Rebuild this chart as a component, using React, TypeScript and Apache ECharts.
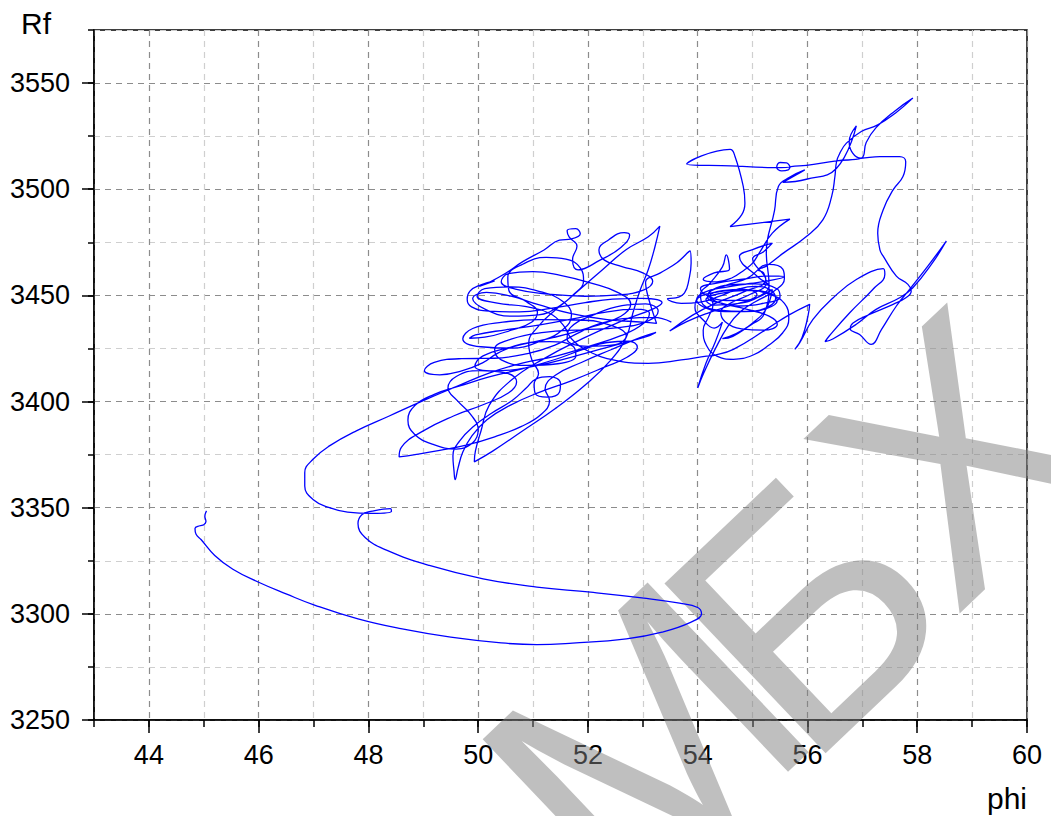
import React, { useEffect, useRef } from "react";
import * as echarts from "echarts";

// Axis tick values (major ticks carry labels)
const phiMajor = [44, 46, 48, 50, 52, 54, 56, 58, 60];
const rfMajor = [3250, 3300, 3350, 3400, 3450, 3500, 3550];

// Trajectory of (phi, Rf), split into consecutive stretches
const approachPath: [number, number][] = [
  [45.05, 3348.5], [45.02, 3346], [45.04, 3343.5], [45.0, 3342], [44.93, 3341.5], [44.84, 3340.2],
  [44.86, 3337.5], [44.95, 3335], [45.2, 3327.5], [45.53, 3321], [45.99, 3315], [46.5, 3309.4],
  [47.03, 3304], [47.81, 3297.6], [48.59, 3293], [49.5, 3289], [50.42, 3286.3], [51.07, 3285.5],
  [51.72, 3286.2], [52.7, 3288.2], [53.35, 3291.4], [53.87, 3296], [54.07, 3300], [54.0, 3303],
  [53.67, 3305], [53.02, 3307.4], [52.05, 3310.2], [51.07, 3312.6], [50.09, 3316.5], [49.11, 3322.8],
  [48.33, 3330], [47.94, 3336], [47.81, 3342.5], [47.88, 3346.7], [48.07, 3348.4], [48.4, 3349.6],
  [48.42, 3348.3], [48.07, 3347.3], [47.62, 3347.9], [47.29, 3350], [46.99, 3353.9], [46.84, 3360.2],
  [46.84, 3366.5], [46.99, 3372.8], [47.29, 3379.1], [47.78, 3386.2], [48.38, 3393.2], [48.99, 3400.3],
  [49.6, 3407], [50.21, 3413.5], [50.82, 3418.2], [51.42, 3421.4], [52.03, 3426.1],
];

const westTangle: [number, number][] = [
  [52.6, 3431], [53.0, 3436.5], [53.12, 3441.5], [52.85, 3443.5], [52.3, 3442], [51.7, 3438.8],
  [51.1, 3436], [50.5, 3433.8], [49.95, 3431.4], [49.84, 3429.8], [50.12, 3430.3], [50.6, 3433.6],
  [50.98, 3437.5], [51.08, 3442], [50.88, 3447], [50.56, 3452.3], [50.54, 3458.6], [50.82, 3464.8],
  [51.24, 3467.9], [51.6, 3467.1], [51.86, 3463], [51.92, 3456.8], [51.72, 3450], [51.4, 3443],
  [51.1, 3435.5], [50.92, 3427.5], [50.98, 3419.5], [51.1, 3413.2], [51.02, 3408.2], [51.04, 3403.8],
  [51.26, 3402.1], [51.48, 3404.4], [51.5, 3408.6], [51.3, 3411.7], [51.05, 3410.6], [50.88, 3406.5],
  [50.62, 3400.5], [50.25, 3394.6], [49.92, 3388.4], [49.66, 3381.4], [49.54, 3374.4], [49.56, 3367.2],
  [49.58, 3363.2], [49.63, 3368.4], [49.72, 3376.2], [49.88, 3383.6], [50.16, 3391.4], [50.58, 3398.2],
  [51.1, 3404.2], [51.72, 3410], [52.3, 3416.2], [52.72, 3421], [52.9, 3425.6], [52.75, 3428.4],
  [52.35, 3427.8], [51.9, 3424.4], [51.4, 3419.8], [50.8, 3415.4], [50.2, 3411.6], [49.65, 3407.2],
  [49.2, 3403.4], [48.85, 3398.2], [48.72, 3391.2], [48.84, 3384.6], [49.18, 3379.8], [49.6, 3377.6],
  [49.9, 3380.6], [50.0, 3386.6], [49.88, 3393.4], [49.62, 3400.4], [49.45, 3406.4], [49.6, 3411.8],
  [50.02, 3414.6], [50.48, 3413.6], [50.7, 3409.2], [50.55, 3404], [50.1, 3398.6], [49.55, 3393.2],
  [49.0, 3386.2], [48.6, 3378.4], [48.56, 3373.9], [48.85, 3375], [49.3, 3377], [49.8, 3379.6],
  [50.3, 3383.4], [50.78, 3388.2], [51.15, 3394], [51.3, 3400.4], [51.22, 3406], [51.42, 3412.6],
  [51.88, 3418.4], [52.42, 3424.4], [52.96, 3430.2], [53.24, 3432.6], [53.05, 3430.4], [52.5, 3426.6],
  [51.8, 3421.6], [51.05, 3416.8], [50.3, 3414.4], [49.94, 3416.6], [50.08, 3421.4], [50.62, 3425.8],
  [51.38, 3430.2], [52.1, 3435.4], [52.6, 3440.2], [52.78, 3445.8], [52.56, 3451.2], [52.06, 3455.8],
  [51.5, 3459.4], [51.0, 3461.2], [50.55, 3460.2], [50.42, 3456.4], [50.7, 3452.8], [51.28, 3450.6],
  [51.95, 3449.6], [52.55, 3450.2], [53.02, 3452.6], [53.18, 3456.6], [53.0, 3460.6], [52.62, 3463.6],
  [52.3, 3466.6], [52.2, 3471.4], [52.38, 3476.2], [52.66, 3479.6], [52.76, 3478.4], [52.6, 3472.6],
  [52.22, 3466.6], [51.82, 3462], [51.72, 3467], [51.8, 3473.2], [51.66, 3477.4], [51.62, 3480.4],
  [51.78, 3481.4], [51.86, 3479], [51.7, 3476.6], [51.48, 3476], [51.2, 3471.4], [50.82, 3466],
  [50.5, 3460.4], [50.22, 3456.4], [50.02, 3454.2], [50.3, 3456.8], [50.05, 3455], [49.85, 3452],
  [49.8, 3448.2], [49.88, 3444.6], [50.2, 3442.6], [50.75, 3442.2], [51.35, 3444], [51.95, 3446.6],
  [52.45, 3448.2], [52.98, 3448.6], [53.35, 3446.6], [53.2, 3443.8], [52.6, 3437.8], [51.9, 3429.6],
  [51.2, 3420.2], [50.6, 3410], [50.2, 3398.2], [50.05, 3386], [49.95, 3376.8], [49.93, 3371.6],
  [50.25, 3376.4], [50.8, 3386], [51.4, 3396.6], [51.95, 3407.8], [52.4, 3419], [52.7, 3430.4],
  [52.82, 3441.8], [52.95, 3452.4], [53.1, 3462.2], [53.22, 3472.8], [53.31, 3482.6], [53.1, 3477.6],
  [52.7, 3471.6], [52.27, 3462.2], [51.85, 3452.8], [51.48, 3445], [51.1, 3440.8], [50.6, 3440.2],
  [50.15, 3443.2], [49.9, 3448.4], [50.15, 3451.4], [50.6, 3449.6], [51.1, 3445.6], [51.7, 3441.4],
  [52.35, 3438.6], [53.0, 3437.4], [53.25, 3436.8], [53.16, 3443.8], [53.08, 3451], [53.05, 3456.2],
  [53.32, 3460.6], [53.62, 3465.4], [53.86, 3470.9], [53.88, 3465.2], [53.84, 3457.4], [53.76, 3451.2],
  [53.6, 3448.8], [53.45, 3448.4],
];

const eastTangle: [number, number][] = [
  [53.7, 3446.2], [54.05, 3446.8], [54.4, 3449.6], [54.72, 3452.8], [55.05, 3454.2], [55.32, 3452.6],
  [55.42, 3448.6], [55.3, 3444.8], [54.95, 3442.6], [54.5, 3442.4], [54.12, 3444.4], [53.98, 3447.8],
  [54.12, 3451.4], [54.5, 3453.8], [54.95, 3455.6], [55.35, 3457.2], [55.58, 3458.8], [55.3, 3459.2],
  [54.82, 3457.6], [54.35, 3455.8], [54.05, 3453.2], [54.18, 3449.8], [54.52, 3447.6], [54.9, 3447.8],
  [55.08, 3450.4], [54.85, 3452.8], [54.45, 3452.2], [54.22, 3449.4], [54.28, 3445.8], [54.2, 3440],
  [54.1, 3433.6], [54.16, 3426.4], [54.35, 3421.4], [54.65, 3419.9], [55.0, 3421.8], [55.3, 3426.6],
  [55.55, 3432.4], [55.66, 3439], [55.58, 3446.2], [55.3, 3450.6], [54.85, 3452.6], [54.35, 3451.6],
  [54.0, 3448.6], [53.95, 3444.2], [54.1, 3438.4], [54.3, 3434.6], [54.45, 3437.4], [54.32, 3428],
  [54.15, 3418], [54.0, 3406.4], [54.12, 3414], [54.32, 3424.8], [54.55, 3435.4], [54.78, 3442.4],
  [55.05, 3447], [55.4, 3452.2], [55.58, 3458], [55.55, 3462.4], [55.3, 3464.6], [54.9, 3458],
  [54.5, 3454.6], [54.2, 3450.6], [54.35, 3447], [54.75, 3445], [55.15, 3446], [55.5, 3449.4],
  [55.45, 3453], [55.05, 3455.4], [54.6, 3455], [54.25, 3452.4], [54.18, 3449], [54.45, 3446.2],
  [54.9, 3443.4], [55.3, 3440.2], [55.45, 3436.4], [55.2, 3433.6], [54.8, 3434.2], [54.5, 3437.6],
  [54.42, 3442], [54.6, 3446.4], [54.95, 3450.4], [55.25, 3455.8], [55.2, 3460.6], [55.1, 3462],
];

const summitLoop: [number, number][] = [
  [55.25, 3463.8], [55.56, 3469.9], [55.98, 3477.7], [56.28, 3485.6], [56.44, 3496.5], [56.5, 3506],
  [56.53, 3513], [56.59, 3517], [56.71, 3521.7], [56.98, 3527.2], [57.28, 3530.3], [57.6, 3535.8],
  [57.92, 3542.9], [57.6, 3537], [57.25, 3529], [57.07, 3522], [56.98, 3514.6], [56.53, 3513.4],
  [55.98, 3511.2], [55.7, 3510.6], [55.65, 3509.1], [55.53, 3508.6], [55.44, 3510.4], [55.5, 3512.6],
  [55.62, 3512.4], [55.68, 3510.6], [55.38, 3510.2], [54.6, 3511], [53.8, 3511.9], [54.59, 3518.8],
  [54.68, 3515.4], [54.83, 3501.3], [54.86, 3493.4], [54.8, 3487.9], [54.59, 3482.4], [55.68, 3485.9],
  [55.36, 3479.3], [55.12, 3469.9], [55.0, 3465.2],
];

const eastReturn: [number, number][] = [
  [54.85, 3462], [54.62, 3458.2], [54.35, 3456.4], [54.1, 3457.6], [54.3, 3460.6], [54.58, 3462.4],
  [54.52, 3469.1], [54.45, 3463.4], [54.22, 3455.6], [54.05, 3450.4], [54.1, 3445.6], [54.4, 3443],
  [54.85, 3442.4], [55.25, 3443.8], [55.45, 3447.6], [55.3, 3451.2], [54.9, 3452.4], [54.42, 3451],
  [54.15, 3448], [54.3, 3445.4], [54.75, 3446.2], [55.1, 3449.2], [55.3, 3454.4], [55.12, 3458.2],
  [54.76, 3468.3], [55.0, 3471.6], [55.36, 3474.6], [55.2, 3470.6], [55.0, 3467.2], [55.24, 3457.4],
  [54.85, 3451.8], [54.3, 3446], [53.9, 3440.6], [53.49, 3433.2], [53.8, 3437.6], [54.2, 3441.8],
  [54.62, 3445.4], [55.05, 3448.6], [55.36, 3452.7], [55.24, 3443.3], [55.0, 3437], [54.64, 3430.7],
  [54.45, 3429.6], [54.7, 3432], [55.0, 3436.6], [55.2, 3440.8], [55.3, 3455], [55.25, 3470],
  [55.4, 3490], [55.47, 3501.3], [55.68, 3505.7], [55.95, 3509.1], [55.8, 3506.8], [55.55, 3503.2],
  [55.98, 3504.7], [56.53, 3509.9], [56.89, 3529.8], [56.76, 3522.4], [56.98, 3514.6],
];

const ridgeRun: [number, number][] = [
  [57.32, 3515.4], [57.68, 3515.4], [57.79, 3513], [57.74, 3506], [57.56, 3499.7], [57.38, 3490.3],
  [57.28, 3479.3], [57.32, 3471.4], [57.38, 3468.5], [57.62, 3459.1], [57.83, 3455.2], [57.89, 3452],
  [57.8, 3449], [57.56, 3445.8], [57.13, 3441], [56.83, 3437], [56.78, 3434.3], [56.95, 3431.6],
  [57.16, 3426.9], [57.35, 3434], [57.62, 3445], [57.86, 3452.8], [58.2, 3464], [58.53, 3475.6],
  [58.28, 3465.4], [57.92, 3453.6], [57.68, 3448.9], [57.25, 3443.4], [56.89, 3436.4], [56.47, 3429.6],
  [56.32, 3428.2], [56.4, 3431], [56.77, 3441.8], [57.19, 3452.8], [57.41, 3459.9], [57.38, 3462.6],
  [56.89, 3457.5], [56.47, 3448.9], [56.1, 3438.7], [55.86, 3427.7], [55.77, 3424.6], [55.9, 3430],
  [56.01, 3440.3], [56.04, 3445.8], [55.65, 3440.6], [55.25, 3434], [54.65, 3424.6], [54.3, 3421.8],
  [54.16, 3421.4],
];

const lateWander: [number, number][] = [
  [53.7, 3419.6], [53.1, 3418], [52.5, 3419.4], [52.0, 3423.8], [51.7, 3429.6], [51.55, 3436],
  [51.3, 3441.6], [50.85, 3444.8], [50.35, 3446.4], [49.98, 3449.6], [50.12, 3453.2], [50.6, 3454],
  [51.15, 3451.6], [51.55, 3447], [51.7, 3440.8], [51.55, 3434], [51.15, 3428.6], [50.6, 3425.2],
  [50.05, 3425.8], [49.72, 3429.6], [49.9, 3434.4], [50.45, 3437.4], [51.1, 3438.6], [51.85, 3438.4],
  [52.45, 3435.6], [52.7, 3431], [52.5, 3426.8], [52.0, 3426], [51.62, 3429.6], [51.68, 3434.8],
  [52.1, 3440.8], [52.62, 3445.2], [53.05, 3446], [53.28, 3442.6], [53.1, 3438], [52.55, 3434.8],
  [51.9, 3433.8], [51.2, 3432.6], [50.6, 3429.4], [50.3, 3424.6], [50.42, 3419.6], [50.9, 3417],
  [51.45, 3417.8], [51.78, 3421.6], [51.72, 3426.2], [51.3, 3428.2], [50.78, 3427], [50.36, 3422.8],
  [50.08, 3418.2], [49.7, 3414.4], [49.3, 3412.6], [49.02, 3414.6], [49.2, 3418.4], [49.7, 3420.2],
  [50.3, 3420.4], [50.9, 3422.6], [51.4, 3426.6], [51.8, 3432], [52.2, 3436.6], [52.72, 3439.2],
  [53.2, 3439.6], [53.52, 3437.4],
];

const trajectory = [
  ...approachPath,
  ...westTangle,
  ...eastTangle,
  ...summitLoop,
  ...eastReturn,
  ...ridgeRun,
  ...lateWander,
];

const FONT = '"Liberation Sans", Arial, Helvetica, sans-serif';
const MAJOR_GRID = "#8c8c8c";
const MINOR_GRID = "#cfcfcf";

// Stamp letters, each placed along a rising diagonal
const stampLetters = [
  { ch: "М", x: 645, y: 745 },
  { ch: "Б", x: 805, y: 610 },
  { ch: "Х", x: 955, y: 455 },
];

export default function App() {
  const ref = useRef<HTMLDivElement>(null);

  useEffect(() => {
    if (!ref.current) return;
    const chart = echarts.init(ref.current, null, { renderer: "svg" });

    const axisBlack = { color: "#000", width: 1.5 };
    const plain = (v: number) => String(v);

    const stamp = stampLetters.map((l) => ({
      type: "text",
      x: l.x,
      y: l.y,
      rotation: 0.76,
      z: 1,
      silent: true,
      style: {
        text: l.ch,
        fontSize: 340,
        fontFamily: FONT,
        fill: "rgba(128,128,128,0.5)",
        align: "center",
        verticalAlign: "middle",
      },
    }));

    chart.setOption({
      animation: false,
      backgroundColor: "#fff",
      grid: {
        left: 94,
        top: 30,
        right: 24,
        bottom: 96,
        show: true,
        borderColor: "#000",
        borderWidth: 1.5,
        backgroundColor: "transparent",
        containLabel: false,
        outerBoundsMode: "none",
      },
      xAxis: [
        {
          type: "value",
          min: 43,
          max: 60,
          interval: 1,
          position: "bottom",
          axisLine: { show: true, onZero: false, lineStyle: axisBlack },
          axisTick: { show: true, length: 7, lineStyle: axisBlack },
          axisLabel: { show: false },
          splitLine: {
            show: true,
            lineStyle: { color: [MINOR_GRID, MAJOR_GRID], width: 1.2, type: [6, 5] },
          },
        },
        {
          type: "value",
          min: 43,
          max: 60,
          position: "bottom",
          axisLine: { show: false },
          axisTick: { show: true, length: 13, customValues: phiMajor, lineStyle: axisBlack },
          axisLabel: {
            show: true,
            customValues: phiMajor,
            formatter: plain,
            margin: 21,
            color: "#000",
            fontSize: 27,
            fontFamily: FONT,
          },
          splitLine: { show: false },
        },
      ],
      yAxis: [
        {
          type: "value",
          min: 3250,
          max: 3575,
          interval: 25,
          position: "left",
          axisLine: { show: true, onZero: false, lineStyle: axisBlack },
          axisTick: { show: true, length: 6, lineStyle: axisBlack },
          axisLabel: { show: false },
          splitLine: {
            show: true,
            lineStyle: { color: [MAJOR_GRID, MINOR_GRID], width: 1.2, type: [6, 5] },
          },
        },
        {
          type: "value",
          min: 3250,
          max: 3575,
          position: "left",
          axisLine: { show: false },
          axisTick: { show: true, length: 12, customValues: rfMajor, lineStyle: axisBlack },
          axisLabel: {
            show: true,
            customValues: rfMajor,
            formatter: plain,
            margin: 24,
            color: "#000",
            fontSize: 27,
            fontFamily: FONT,
          },
          splitLine: { show: false },
        },
      ],
      graphic: [
        ...stamp,
        {
          type: "text",
          x: 21,
          y: 23,
          style: {
            text: "Rf",
            fontSize: 30,
            fontFamily: FONT,
            fill: "#000",
            align: "left",
            verticalAlign: "middle",
          },
        },
        {
          type: "text",
          x: 1027,
          y: 798,
          style: {
            text: "phi",
            fontSize: 30,
            fontFamily: FONT,
            fill: "#000",
            align: "right",
            verticalAlign: "middle",
          },
        },
      ],
      series: [
        {
          type: "line",
          xAxisIndex: 0,
          yAxisIndex: 0,
          data: trajectory,
          showSymbol: false,
          smooth: 0.45,
          z: 3,
          lineStyle: { color: "#0000ff", width: 1.3 },
        },
      ],
    });

    return () => chart.dispose();
  }, []);

  return (
    <div
      ref={ref}
      style={{ position: "absolute", left: 0, top: 0, width: 1051, height: 816 }}
    />
  );
}
